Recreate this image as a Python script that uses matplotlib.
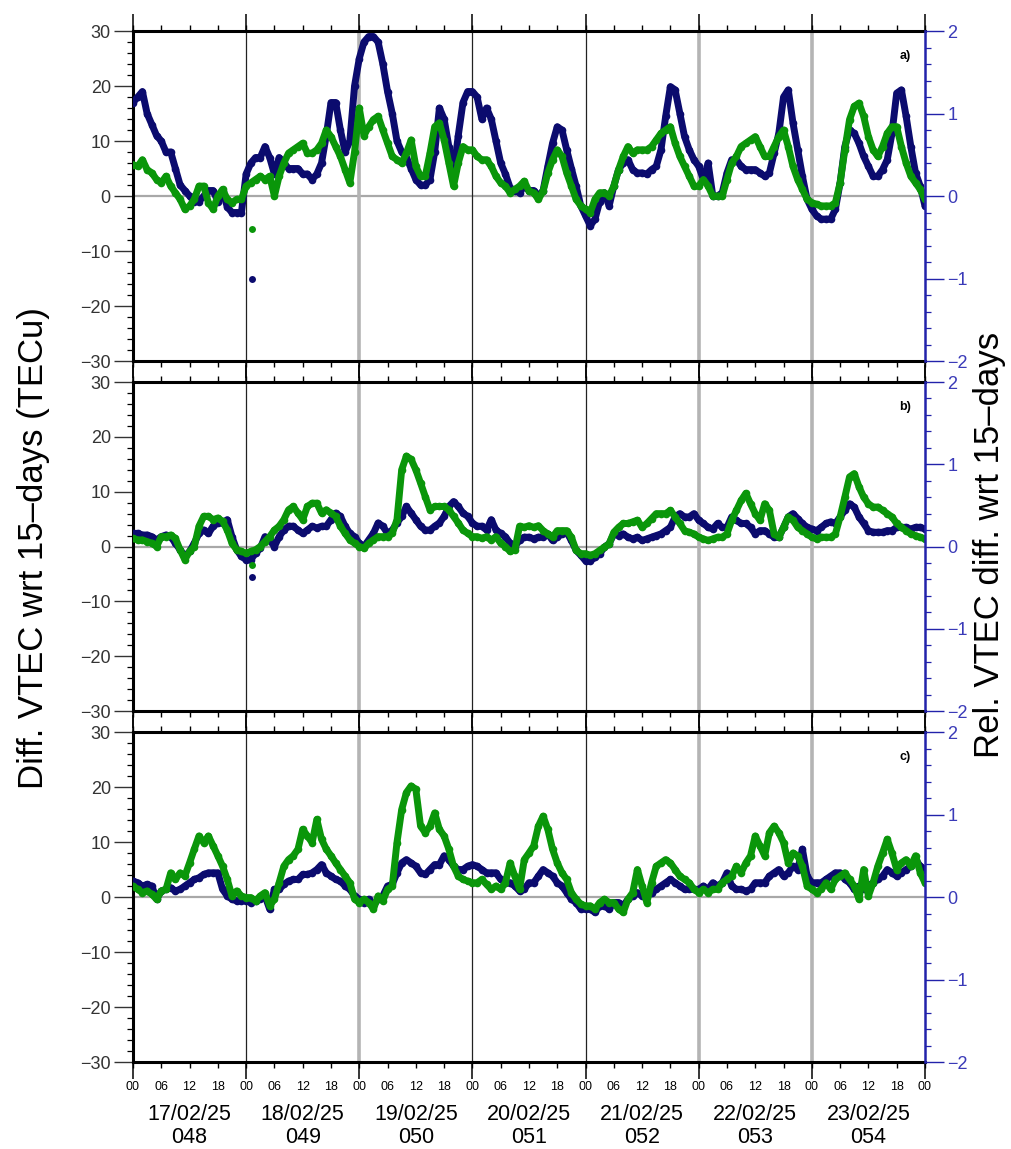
import matplotlib.pyplot as plt
import numpy as np
from matplotlib.ticker import FuncFormatter, MultipleLocator

plt.rcParams["font.family"] = ["Liberation Sans", "DejaVu Sans"]

NAVY = "#0b0b6e"
GREEN = "#0a960a"
BLUE = "#2222aa"

hours = np.arange(0, 169)  # 17/02/25 00h .. 24/02/25 00h

# panel a) -- one value per hour, one row per day
navy_a = [
    17, 18, 19, 15, 13, 11, 10, 8, 8, 5, 2, 1, 0, -1, -1, 0, 1, 1, -1, 1, -2, -3, -3, -3,
    4, 6, 7, 7, 9, 7, 4, 7, 6, 5, 5, 5, 4, 4, 3, 4, 6, 11, 17, 17, 12, 8, 10, 20,
    25, 28, 29, 29, 28, 24, 19, 15, 10, 8, 7, 5, 3, 2, 2, 3, 8, 16, 14, 9, 4, 11, 17, 19,
    19, 18, 14, 16, 14, 10, 6, 4, 1.5, 1, 0.6, 1.8, 1, 1, 0, 1, 5.4, 9.6, 12.6, 12, 8.4, 5, 1.8, -1.8,
    -3.6, -5.4, -4.2, -1, 0.6, -1.8, 1.8, 4.8, 6, 6.6, 4.8, 4.2, 4.2, 4, 4.8, 5.4, 8.4, 14.5, 19.9, 19.3, 15, 10.8, 8.4, 6.6,
    5.4, 3, 6, 0, 0, 0.6, 4.2, 6.6, 6.6, 5.4, 4.8, 4.8, 4.8, 4.2, 3.6, 4.2, 7.8, 11.4, 18, 19.3, 13.3, 8.4, 3.6, -0.6,
    -2.4, -3.6, -4.2, -4.2, -4.2, -2.4, 2.4, 9, 12, 11.4, 9.6, 7.2, 5.4, 3.6, 3.6, 4.8, 6.6, 11.4, 18.7, 19.3, 14.5, 9, 4.2, 1.8,
    -1.8,
]
green_a = [
    5.7, 5.4, 6.6, 4.8, 4.2, 3, 2.4, 3.6, 1.8, 0.6, -0.6, -2.4, -1.8, -0.6, 1.8, 1.8, -1.2, -2.4, 0, 1.2, -0.6, -1.2, -0.6, -0.6,
    1.8, 2.4, 3, 3.6, 3, 3.6, 0, 3.6, 6, 7.8, 8.4, 9, 9.6, 7.8, 7.8, 8.4, 9.6, 12, 10.8, 9, 7.2, 4.8, 2.4, 8,
    16, 11, 12.6, 13.9, 14.5, 12, 9.6, 7.2, 6.6, 6, 7.8, 10.2, 5.4, 3.6, 3.6, 7.8, 12.6, 13.3, 10.2, 6, 1.8, 6, 9, 8.4,
    8.4, 7.2, 6.6, 6.6, 5.4, 3.6, 2.4, 1.8, 0.6, 1.2, 1.8, 2.7, 0.9, 0.6, -0.6, 0.9, 4.2, 6.6, 8.4, 7.2, 4.2, 1.8, -0.6, -1.8,
    -2.4, -3, -0.6, 0.6, 0.6, 0, 1.8, 4.8, 7.2, 9, 7.8, 8.4, 8.4, 8.4, 9, 10.2, 11.4, 12, 12.6, 9.6, 7.2, 5.4, 3.6, 1.8,
    1.8, 3, 1.8, 0, 0, 0, 3, 6, 7.2, 9, 9.6, 10.2, 10.8, 9, 7.2, 7.2, 9, 10.8, 12, 9, 5.4, 3, 1.2, -0.6,
    -1.2, -1.5, -1.8, -1.8, -1.8, -1.2, 2.4, 8.4, 13.9, 16.3, 16.9, 14.5, 10.8, 8.4, 7.2, 9, 11.4, 12.6, 12.6, 9, 6, 3.6, 2.4, 1.2,
    -0.6,
]

# panel b)
navy_b = [
    2.4, 2.4, 2.1, 2.1, 1.8, 1.2, 1.8, 2.1, 1.8, 0.6, -0.6, -1.8, -0.9, 0.6, 2.4, 3, 2.4, 3.7, 4.3, 4.3, 4.9, 1.8, -0.6, -1.8,
    -2.4, -2.4, -1.2, -0.3, 1.8, 1.2, 0, 1.8, 3, 3.7, 3.7, 3, 2.4, 3, 3.7, 3.4, 3.7, 3.7, 4.9, 6.1, 5.5, 3.7, 2.4, 1.8,
    0.6, 0, 1.2, 2.4, 4.3, 3.7, 2.4, 3, 4.3, 5.5, 7.3, 6.1, 4.9, 3.7, 3, 3, 3.7, 4.3, 5.5, 7.3, 8.2, 7.3, 6.1, 5.5,
    4.3, 3.7, 3.7, 3, 4.9, 3, 2.4, 1.8, 0.6, 0, 1.2, 1.7, 1.7, 1.4, 1.7, 1.7, 2.3, 1.1, 1.7, 2.3, 2.6, 1.1, -0.7, -1.6,
    -2.6, -2.6, -2, -1.3, -0.1, 0.5, 2.3, 2, 2.3, 1.7, 1.4, 1.7, 1.1, 1.4, 1.7, 2, 2.3, 2.9, 3.5, 5.4, 6, 5.4, 5.4, 6,
    4.8, 4.2, 3.5, 3.2, 4.2, 3.5, 3.5, 5.4, 4.8, 4.2, 4.2, 3.5, 2.3, 2.9, 2.9, 2.3, 1.7, 1.7, 3.5, 5.4, 6, 5.1, 4.2, 3.5,
    3.2, 2.9, 3.5, 4.2, 4.5, 4.2, 5.4, 6.6, 7.8, 7.2, 5.4, 4.2, 2.9, 2.6, 2.6, 2.6, 2.9, 2.9, 3.5, 3.5, 3.5, 3.2, 3.5, 3.5,
    3.2,
]
green_b = [
    1.5, 1.2, 1.2, 0.9, 0.6, 0, 1.8, 1.8, 2.1, 1.5, -0.6, -2.4, -0.9, 0, 3.7, 5.5, 5.5, 4.9, 5.2, 4.6, 3, 0.6, -0.6, -0.9,
    -1.2, -0.9, -0.6, 0, 0.9, 1.8, 3, 3.7, 4.9, 6.7, 7.3, 6.1, 4.9, 7.3, 7.9, 7.9, 6.1, 6.7, 6.1, 5.5, 3.7, 2.4, 1.2, 0.6,
    0, -0.3, 0.6, 1.2, 1.8, 1.8, 1.8, 2.4, 4.9, 14, 16.5, 15.9, 14, 11.6, 9.1, 6.7, 7.3, 7.3, 7.3, 6.7, 5.5, 4.3, 3, 2.4,
    1.8, 1.8, 1.5, 1.8, 1.2, 1.8, 0.6, 0, -0.9, -0.6, 3.7, 3.5, 3.8, 3.5, 3.8, 2.9, 2.3, 1.7, 2.9, 2.9, 2.9, 1.7, -0.7, -1.3,
    -1.3, -1.6, -1.3, -0.7, -0.1, 0.5, 2.6, 3.5, 4.2, 4.2, 4.5, 4.8, 3.5, 4.2, 5.1, 6, 6, 6, 6.6, 5.4, 4.2, 2.9, 2.6, 2.3,
    1.7, 1.4, 1.1, 1.4, 1.7, 1.7, 2.3, 4.8, 6.6, 8.4, 9.7, 7.8, 6, 4.8, 7.8, 6.6, 2.3, 1.7, 3.5, 5.4, 4.8, 3.5, 2.9, 2.3,
    1.7, 1.4, 1.7, 1.7, 1.7, 2.3, 5.4, 9, 12.7, 13.3, 10.9, 9, 7.8, 7.2, 7.2, 6.6, 6, 5.4, 4.2, 3.5, 2.9, 2.3, 2, 1.7,
    1.4,
]

# panel c)
navy_c = [
    2.9, 2.6, 2, 2.3, 2, -0.4, 1.1, 1.4, 1.7, 1.1, 1.4, 2, 2.6, 3.2, 3.5, 4.1, 4.4, 4.4, 4.4, 1.4, 0.2, -0.4, -0.7, -0.7,
    -0.7, -1, -0.7, -0.4, 0.2, -2.2, 1.4, 1.4, 2.3, 2.9, 3.2, 3.2, 4.1, 4.1, 4.4, 5, 5.9, 4.4, 3.8, 3.2, 2.9, 2, 1.4, 0.2,
    -0.4, -1, -0.4, -1.6, -0.4, 0.2, 2, 2.3, 4.4, 6.2, 6.8, 6.2, 5.6, 4.4, 4.1, 5, 5.9, 5.9, 7.5, 6.8, 5.6, 5, 5, 5.6,
    5.9, 5.6, 5, 4.4, 4.4, 4.4, 3.2, 2.6, 2.6, 2, 1.1, 1.4, 2.6, 2.6, 3.8, 5, 4.4, 3.8, 2.6, 2, 0.8, -0.4, -1, -2.2,
    -2.2, -2.2, -2.8, -1.6, -1.6, -2.2, -1, -1, -1.6, -0.4, 0.2, 0.8, 0.2, 0.2, 0.8, 1.4, 2, 2.6, 3.2, 2.6, 2, 1.4, 1.4, 1.4,
    1.4, 2, 1.4, 2.6, 2, 2.6, 4.4, 2, 1.4, 1.4, 1.1, 1.4, 2.6, 2.6, 2.6, 3.8, 4.4, 5, 3.8, 4.4, 5.6, 5, 8.7, 3.8,
    2.6, 2.6, 2.6, 3.2, 3.8, 4.4, 4.4, 3.2, 2.6, 1.4, 2, 1.4, 2, 2.6, 3.2, 3.8, 5, 4.4, 3.8, 4.4, 5, 5.6, 6.8, 5.6,
    5,
]
green_c = [
    2, 1.4, 0.8, 1.1, 0.5, -0.4, 1.1, 1.4, 4.4, 3.2, 4.4, 3.8, 6.2, 8.7, 11.1, 9.9, 11.1, 9.3, 7.5, 5.6, 3.2, 0.2, 1.1, 0.2,
    -0.1, -0.1, -0.7, 0.2, 0.8, -1.6, -0.4, 2.6, 5.6, 6.8, 7.5, 8.7, 12.3, 11.1, 9.9, 14.1, 10.5, 8.7, 7.5, 6.2, 5, 3.8, 2.6, -0.4,
    -1, -0.4, -1, -2.2, 0.2, -0.7, 1.4, 2, 9.9, 15.9, 19, 20.2, 19.6, 12.9, 11.7, 12.9, 15.3, 12.3, 11.1, 8.7, 5.6, 3.8, 3.2, 2.9,
    2.6, 2.6, 3.2, 2.3, 1.4, 2, 1.4, 2.6, 6.2, 3.8, 1.4, 6.8, 8, 9.3, 12.9, 14.7, 12.3, 8.7, 6.2, 4.4, 3.2, 0.8, -0.4, -1.3,
    -1.6, -1.6, -2.2, -1, -0.4, -1, -1, -2.2, -2.8, -0.4, 0.8, 5, 2, -1, 2.6, 5.6, 6.2, 6.8, 6.2, 5, 3.8, 3.2, 2.6, 1.4,
    0.8, 1.4, 0.8, 1.4, 1.4, 2.6, 3.2, 3.8, 5.6, 4.4, 6.2, 7.5, 11.1, 9.3, 7.5, 11.7, 12.9, 11.7, 9.9, 6.2, 8, 7.5, 5.6, 2,
    1.4, 0.8, 1.4, 2.6, 1.4, 3.2, 3.8, 4.4, 3.2, 2, -0.4, 5, 0.2, 2.6, 5.6, 8, 10.5, 8, 5, 6.2, 6.8, 5.6, 7.5, 4.4,
    2.6,
]

# isolated outlier points (18/02 ~01h)
outlier_hour = [25.3]
outlier_navy = {"a": [-15], "b": [-5.6]}
outlier_green = {"a": [-6], "b": [-3.4]}

dates = ["17/02/25", "18/02/25", "19/02/25", "20/02/25", "21/02/25", "22/02/25", "23/02/25"]
doys = ["048", "049", "050", "051", "052", "053", "054"]
grey_days = [48, 120, 144]

panels = [("a", navy_a, green_a), ("b", navy_b, green_b), ("c", navy_c, green_c)]
boxes = [(0.1314, 0.6858, 0.7826, 0.2872),
         (0.1314, 0.3812, 0.7826, 0.2863),
         (0.1314, 0.0757, 0.7826, 0.2872)]

fig = plt.figure(figsize=(10.12, 11.49), dpi=100)

for i, ((tag, navy, green), box) in enumerate(zip(panels, boxes)):
    ax = fig.add_axes(box)
    ax.set_xlim(0, 168)
    ax.set_ylim(-30, 30)

    ax.axhline(0, color="#a8a8a8", lw=1.6, zorder=1)
    for d in range(24, 168, 24):
        if d in grey_days:
            ax.axvline(d, color="#b4b4b4", lw=2.6, zorder=1)
        else:
            ax.axvline(d, color="#222222", lw=0.9, zorder=1)

    ax.plot(hours, navy, color=NAVY, lw=5, marker="o", ms=5.5, mew=0,
            solid_joinstyle="round", solid_capstyle="round", zorder=3)
    ax.plot(hours, green, color=GREEN, lw=5, marker="o", ms=5.5, mew=0,
            solid_joinstyle="round", solid_capstyle="round", zorder=4)
    if tag in outlier_navy:
        ax.plot(outlier_hour, outlier_navy[tag], "o", color=NAVY, ms=5, mew=0, zorder=3)
        ax.plot(outlier_hour, outlier_green[tag], "o", color=GREEN, ms=5, mew=0, zorder=4)

    ax.text(0.975, 0.925, f"{tag})", transform=ax.transAxes, fontsize=9,
            fontweight="bold", ha="center", va="center")

    # x axis: labelled ticks every 6 h, long ticks at each day
    ax.xaxis.remove_overlapping_locs = False
    ax.xaxis.set_major_locator(MultipleLocator(6))
    ax.xaxis.set_minor_locator(MultipleLocator(24))
    ax.tick_params(axis="x", which="major", direction="out", length=4.5, width=1.0,
                   top=True, bottom=True, labelsize=9, pad=9)
    ax.tick_params(axis="x", which="minor", direction="out", length=12, width=1.1,
                   top=True, bottom=True)
    if i == 2:
        ax.xaxis.set_major_formatter(FuncFormatter(lambda x, p: f"{int(x) % 24:02d}"))
        for k in range(7):
            ax.annotate(dates[k], xy=(24 * k + 12, 0), xycoords=("data", "axes fraction"),
                        xytext=(0, -38), textcoords="offset points",
                        ha="center", va="center", fontsize=15.5)
            ax.annotate(doys[k], xy=(24 * k + 12, 0), xycoords=("data", "axes fraction"),
                        xytext=(0, -54.5), textcoords="offset points",
                        ha="center", va="center", fontsize=15.5)
    else:
        ax.tick_params(axis="x", which="both", labelbottom=False)

    ax.yaxis.set_major_locator(MultipleLocator(10))
    ax.yaxis.set_minor_locator(MultipleLocator(2))
    ax.tick_params(axis="y", which="major", direction="out", length=14, width=1.0,
                   labelsize=13, pad=2, colors="#333333")
    ax.tick_params(axis="y", which="minor", direction="out", length=4.5, width=0.9)

    for side in ["top", "bottom", "left"]:
        ax.spines[side].set_linewidth(2.2)
    ax.spines["right"].set_visible(False)

    ax2 = ax.twinx()
    ax2.set_ylim(-2, 2)
    ax2.yaxis.set_major_locator(MultipleLocator(1))
    ax2.yaxis.set_minor_locator(MultipleLocator(0.2))
    ax2.tick_params(axis="y", which="major", direction="out", length=14, width=1.0,
                    color=BLUE, labelcolor="#3a3ab8", labelsize=13, pad=2)
    ax2.tick_params(axis="y", which="minor", direction="out", length=4.5, width=0.9,
                    color=BLUE)
    for side in ["top", "bottom", "left"]:
        ax2.spines[side].set_visible(False)
    ax2.spines["right"].set_color(BLUE)
    ax2.spines["right"].set_linewidth(1.8)

fig.text(0.033, 0.523, "Diff. VTEC wrt 15–days (TECu)", rotation=90,
         ha="center", va="center", fontsize=25)
fig.text(0.978, 0.526, "Rel. VTEC diff. wrt 15–days", rotation=90,
         ha="center", va="center", fontsize=25)

plt.savefig("out.png", dpi=100)
